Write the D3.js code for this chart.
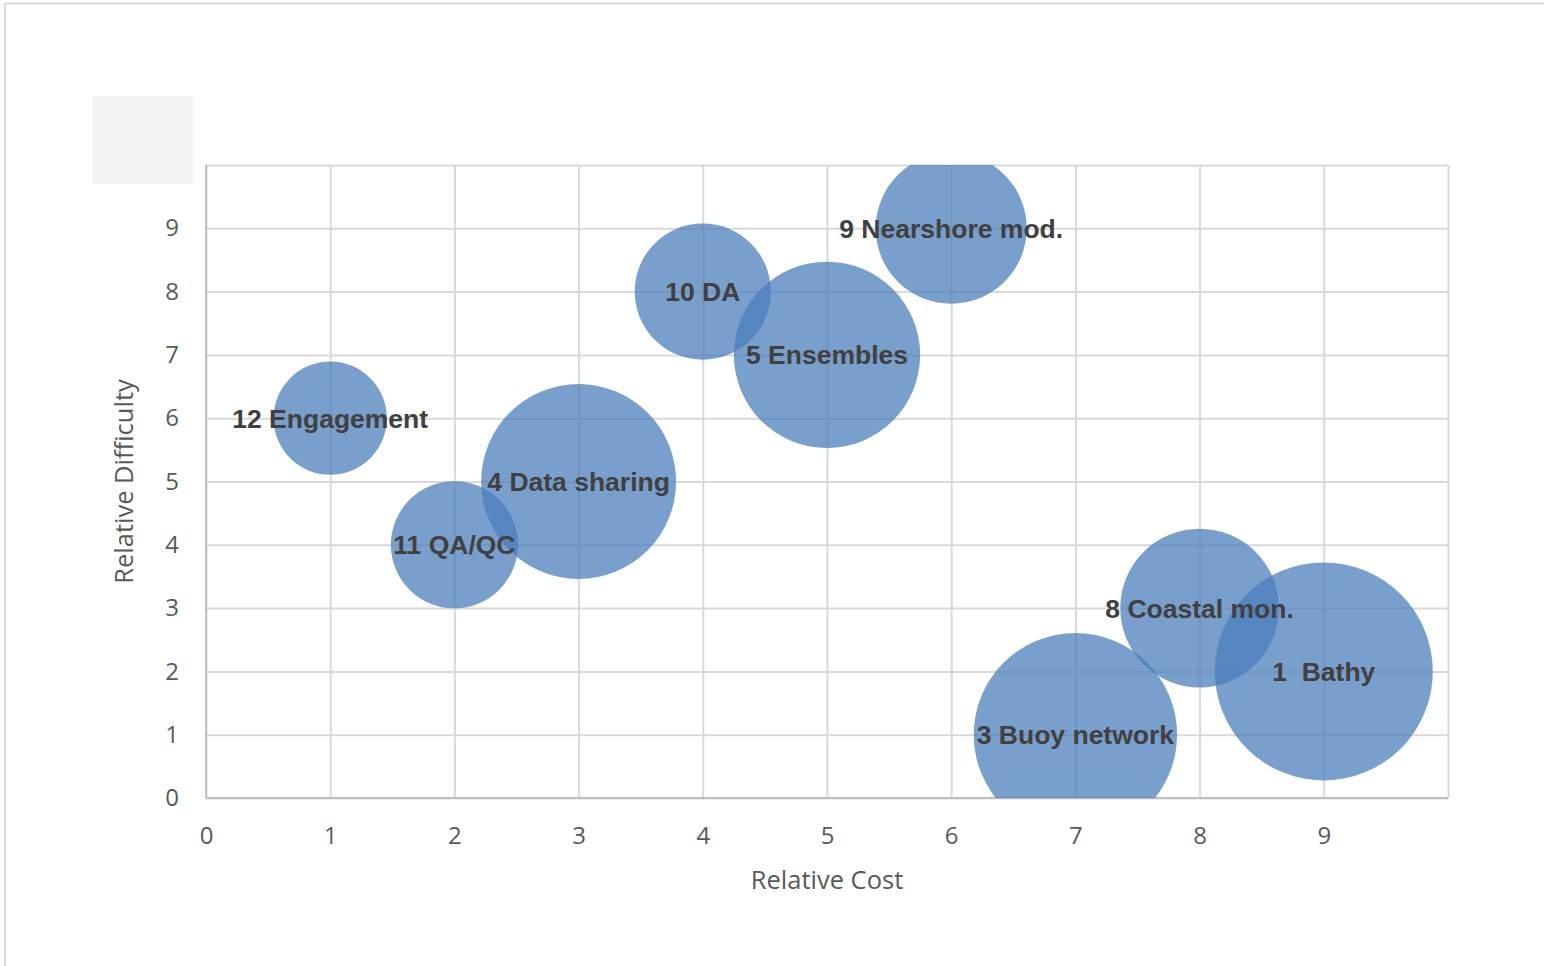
<!DOCTYPE html>
<html lang="en">
<head>
<meta charset="utf-8">
<script src="https://d3js.org/d3.v7.min.js"></script>
<style>
  body { margin: 0; background: #fff; }
  svg { display: block; }
</style>
</head>
<body>
<script>
// Data
var labels = ["12 Engagement", "11 QA/QC", "4 Data sharing", "10 DA", "5 Ensembles",
              "9 Nearshore mod.", "3 Buoy network", "8 Coastal mon.", "1  Bathy"];
var cost = [1, 2, 3, 4, 5, 6, 7, 8, 9];
var difficulty = [6, 4, 5, 8, 7, 9, 1, 3, 2];
var size = [2.7, 3.4, 8, 3.9, 7.3, 4.8, 8.7, 5.3, 10];
var ticks = [0, 1, 2, 3, 4, 5, 6, 7, 8, 9];

var w = 1544, h = 966;
var plotLeft = 206, plotRight = 1448, plotTop = 165, plotBottom = 798;

var svg = d3.select("body").append("svg")
  .attr("width", w).attr("height", h);

// outer frame
svg.append("path")
  .attr("d", "M5,966 V3.5 H1544")
  .attr("fill", "none").attr("stroke", "#d9d9d9").attr("stroke-width", 2);

// small grey box top-left
svg.append("rect")
  .attr("x", 93).attr("y", 96).attr("width", 100).attr("height", 88)
  .attr("fill", "#f2f2f2");

var x = d3.scaleLinear().domain([0, 10]).range([plotLeft, plotRight]);
var y = d3.scaleLinear().domain([0, 10]).range([plotBottom, plotTop]);
var r = d3.scaleSqrt().domain([0, d3.max(size)]).range([0, 109]);

// gridlines
svg.append("g")
  .attr("transform", "translate(0," + plotBottom + ")")
  .call(d3.axisBottom(x).tickValues(d3.range(0, 11)).tickSize(-(plotBottom - plotTop)).tickFormat(""))
  .call(function(g) { g.select(".domain").remove(); })
  .selectAll("line").attr("stroke", "#d9d9d9").attr("stroke-width", 2);

svg.append("g")
  .attr("transform", "translate(" + plotLeft + ",0)")
  .call(d3.axisLeft(y).tickValues(d3.range(0, 11)).tickSize(-(plotRight - plotLeft)).tickFormat(""))
  .call(function(g) { g.select(".domain").remove(); })
  .selectAll("line").attr("stroke", "#d9d9d9").attr("stroke-width", 2);

// axis lines
svg.append("line").attr("x1", plotLeft).attr("x2", plotRight).attr("y1", plotBottom).attr("y2", plotBottom)
  .attr("stroke", "#bfbfbf").attr("stroke-width", 2);
svg.append("line").attr("x1", plotLeft).attr("x2", plotLeft).attr("y1", plotTop).attr("y2", plotBottom)
  .attr("stroke", "#bfbfbf").attr("stroke-width", 2);

// tick labels
var xt = svg.append("g")
  .attr("transform", "translate(0," + plotBottom + ")")
  .call(d3.axisBottom(x).tickValues(ticks).tickSize(0).tickPadding(29).tickFormat(d3.format("d")));
xt.select(".domain").remove();
xt.selectAll("text").attr("font-family", "'Open Sans', sans-serif").attr("font-size", 24).attr("fill", "#595959");

var yt = svg.append("g")
  .attr("transform", "translate(" + plotLeft + ",0)")
  .call(d3.axisLeft(y).tickValues(ticks).tickSize(0).tickPadding(27).tickFormat(d3.format("d")));
yt.select(".domain").remove();
yt.selectAll("text").attr("font-family", "'Open Sans', sans-serif").attr("font-size", 24).attr("fill", "#595959");

// axis titles
svg.append("text")
  .attr("x", (plotLeft + plotRight) / 2).attr("y", 889)
  .attr("text-anchor", "middle")
  .attr("font-family", "'Open Sans', sans-serif").attr("font-size", 25.5).attr("fill", "#595959")
  .text("Relative Cost");

svg.append("text")
  .attr("transform", "translate(133," + (plotTop + plotBottom) / 2 + ") rotate(-90)")
  .attr("text-anchor", "middle")
  .attr("font-family", "'Open Sans', sans-serif").attr("font-size", 25.5).attr("fill", "#595959")
  .text("Relative Difficulty");

// bubbles, clipped to the plot area
svg.append("clipPath").attr("id", "plot")
  .append("rect").attr("x", plotLeft).attr("y", plotTop)
  .attr("width", plotRight - plotLeft).attr("height", plotBottom - plotTop);

var idx = d3.range(labels.length);

svg.append("g").attr("clip-path", "url(#plot)")
  .selectAll("circle")
  .data(idx)
  .enter().append("circle")
  .attr("cx", function(i) { return x(cost[i]); })
  .attr("cy", function(i) { return y(difficulty[i]); })
  .attr("r", function(i) { return r(size[i]); })
  .attr("fill", "#4a7ebb")
  .attr("fill-opacity", 0.74);

// bubble labels
svg.append("g")
  .selectAll("text")
  .data(idx)
  .enter().append("text")
  .attr("x", function(i) { return x(cost[i]); })
  .attr("y", function(i) { return y(difficulty[i]); })
  .attr("dy", "0.36em")
  .attr("text-anchor", "middle")
  .attr("font-family", "'Liberation Sans', Arial, sans-serif")
  .attr("font-weight", "bold")
  .attr("font-size", 26.5)
  .attr("fill", "#404040")
  .style("white-space", "pre")
  .text(function(i) { return labels[i]; });
</script>
</body>
</html>
